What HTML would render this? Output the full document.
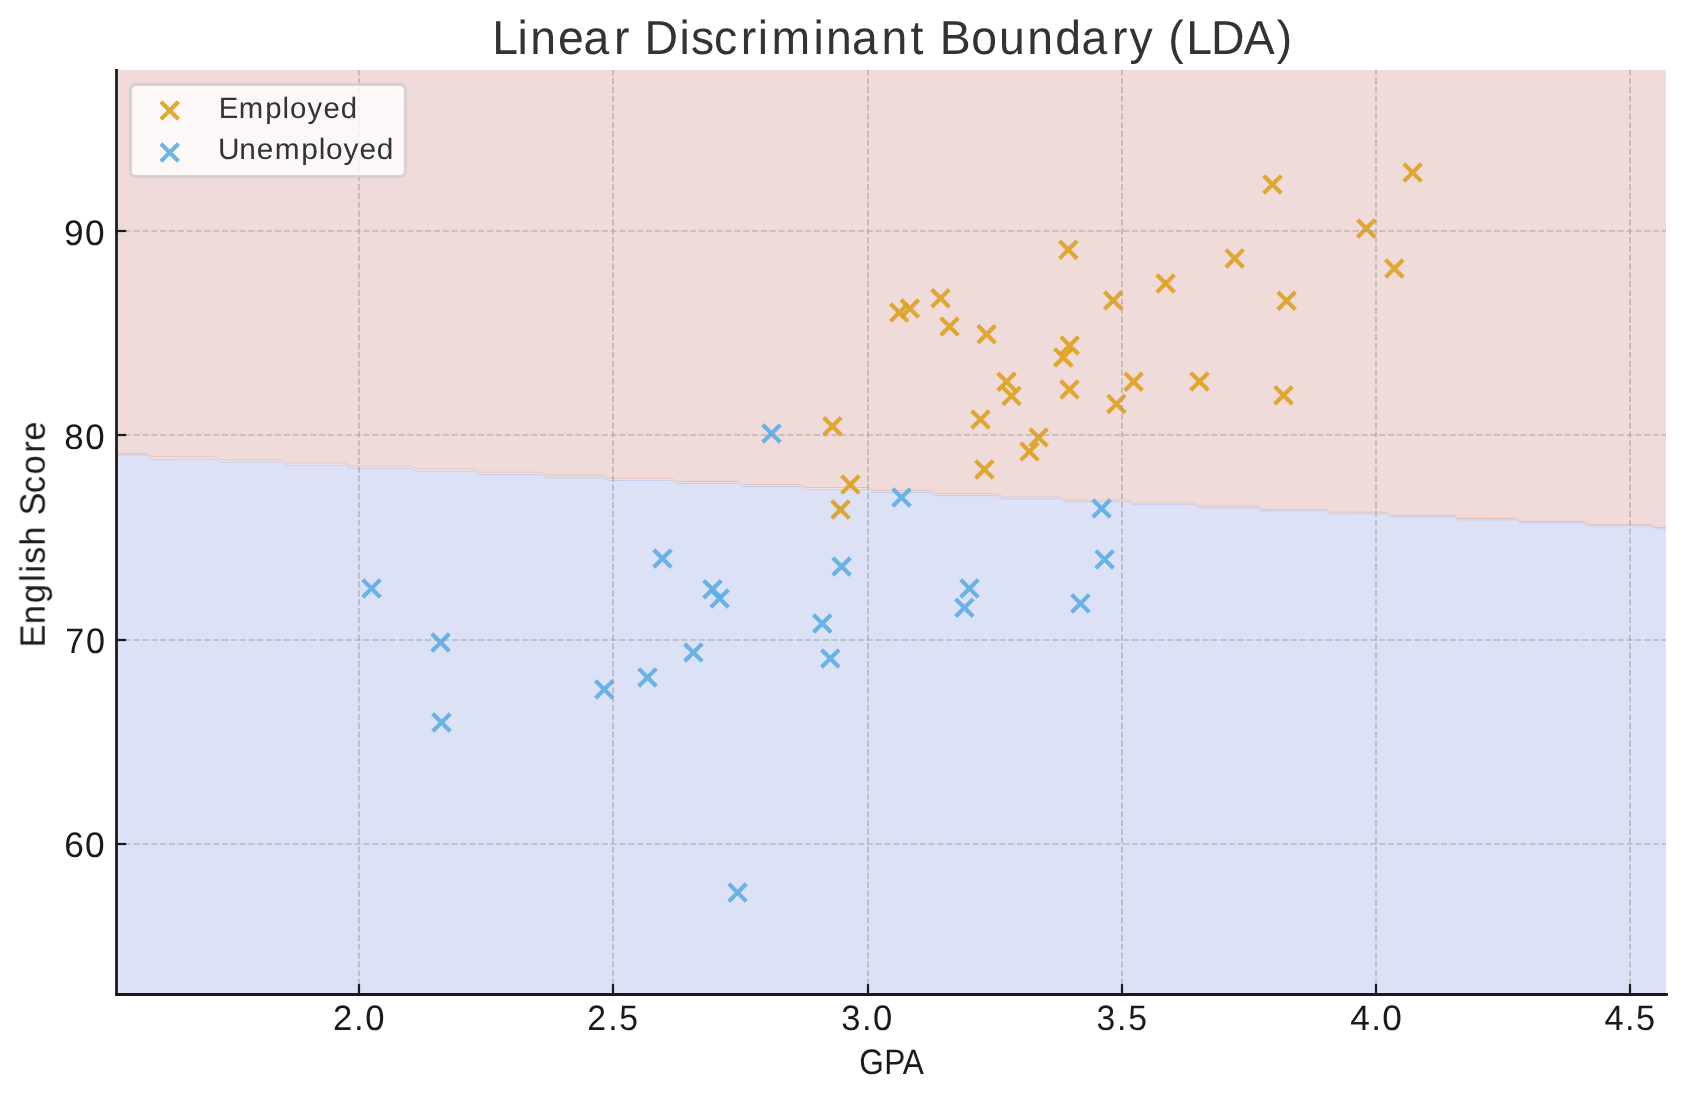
<!DOCTYPE html>
<html lang="en"><head><meta charset="utf-8"><title>Linear Discriminant Boundary (LDA)</title>
<style>
html,body{margin:0;padding:0;background:#fff;}
body{width:1686px;height:1101px;overflow:hidden;}
svg{display:block;}
text{font-family:"Liberation Sans",sans-serif;font-weight:400;text-rendering:geometricPrecision;}
</style></head><body>
<svg width="1686" height="1101" viewBox="0 0 1686 1101">
<rect x="0" y="0" width="1686" height="1101" fill="#ffffff"/>
<polygon fill="#efdbd9" points="116.5,70.0 1666.0,70.0 1666.0,527.3 1655.7,527.3 1651.3,524.3 1588.5,524.3 1584.1,521.2 1520.7,521.2 1516.3,518.1 1458.1,518.1 1453.7,515.0 1391.2,515.0 1386.8,511.9 1329.1,511.9 1324.7,508.8 1261.6,508.8 1257.2,505.7 1199.0,505.7 1194.6,502.7 1132.5,502.7 1128.1,499.6 1064.7,499.6 1060.3,496.5 1002.4,496.5 998.0,493.4 935.6,493.4 931.2,490.3 873.0,490.3 868.6,487.2 805.2,487.2 800.8,484.1 742.5,484.1 738.1,481.1 675.9,481.1 671.5,478.0 608.7,478.0 604.3,474.9 546.1,474.9 541.7,471.8 478.6,471.8 474.2,468.7 416.6,468.7 412.2,465.6 349.1,465.6 344.7,462.6 286.1,462.6 281.7,459.5 219.5,459.5 215.1,456.4 151.9,456.4 147.5,453.3 116.5,453.3"/>
<polygon fill="#dce1f5" points="116.5,994.5 1666.0,994.5 1666.0,529.1 1655.7,529.1 1651.3,526.1 1588.5,526.1 1584.1,523.0 1520.7,523.1 1516.3,520.0 1458.1,520.1 1453.7,517.0 1391.2,517.0 1386.8,513.9 1329.1,514.0 1324.7,510.9 1261.6,511.0 1257.2,507.9 1199.0,507.9 1194.6,504.9 1132.5,504.9 1128.1,501.8 1064.7,501.9 1060.3,498.8 1002.4,498.8 998.0,495.8 935.6,495.8 931.2,492.7 873.0,492.8 868.6,489.7 805.2,489.8 800.8,486.7 742.5,486.7 738.1,483.6 675.9,483.7 671.5,480.6 608.7,480.7 604.3,477.6 546.1,477.6 541.7,474.6 478.6,474.6 474.2,471.5 416.6,471.6 412.2,468.5 349.1,468.5 344.7,465.5 286.1,465.5 281.7,462.4 219.5,462.5 215.1,459.4 151.9,459.5 147.5,455.4 116.5,455.4"/>
<polygon fill="#eee4e8" points="116.5,453.3 147.5,453.3 151.9,456.4 215.1,456.4 219.5,459.5 281.7,459.5 286.1,462.6 344.7,462.6 349.1,465.6 412.2,465.6 416.6,468.7 474.2,468.7 478.6,471.8 541.7,471.8 546.1,474.9 604.3,474.9 608.7,478.0 671.5,478.0 675.9,481.1 738.1,481.1 742.5,484.1 800.8,484.1 805.2,487.2 868.6,487.2 873.0,490.3 931.2,490.3 935.6,493.4 998.0,493.4 1002.4,496.5 1060.3,496.5 1064.7,499.6 1128.1,499.6 1132.5,502.7 1194.6,502.7 1199.0,505.7 1257.2,505.7 1261.6,508.8 1324.7,508.8 1329.1,511.9 1386.8,511.9 1391.2,515.0 1453.7,515.0 1458.1,518.1 1516.3,518.1 1520.7,521.2 1584.1,521.2 1588.5,524.3 1651.3,524.3 1655.7,527.3 1666.0,527.3 1666.0,529.1 1655.7,529.1 1651.3,526.1 1588.5,526.1 1584.1,523.0 1520.7,523.1 1516.3,520.0 1458.1,520.1 1453.7,517.0 1391.2,517.0 1386.8,513.9 1329.1,514.0 1324.7,510.9 1261.6,511.0 1257.2,507.9 1199.0,507.9 1194.6,504.9 1132.5,504.9 1128.1,501.8 1064.7,501.9 1060.3,498.8 1002.4,498.8 998.0,495.8 935.6,495.8 931.2,492.7 873.0,492.8 868.6,489.7 805.2,489.8 800.8,486.7 742.5,486.7 738.1,483.6 675.9,483.7 671.5,480.6 608.7,480.7 604.3,477.6 546.1,477.6 541.7,474.6 478.6,474.6 474.2,471.5 416.6,471.6 412.2,468.5 349.1,468.5 344.7,465.5 286.1,465.5 281.7,462.4 219.5,462.5 215.1,459.4 151.9,459.5 147.5,455.4 116.5,455.4"/>
<polyline fill="none" stroke="#e8bfb3" stroke-width="1" points="116.5,453.6 147.5,453.6 151.9,456.7 215.1,456.7 219.5,459.8 281.7,459.8 286.1,462.9 344.7,462.9 349.1,465.9 412.2,465.9 416.6,469.0 474.2,469.0 478.6,472.1 541.7,472.1 546.1,475.2 604.3,475.2 608.7,478.3 671.5,478.3 675.9,481.4 738.1,481.4 742.5,484.4 800.8,484.4 805.2,487.5 868.6,487.5 873.0,490.6 931.2,490.6 935.6,493.7 998.0,493.7 1002.4,496.8 1060.3,496.8 1064.7,499.9 1128.1,499.9 1132.5,503.0 1194.6,503.0 1199.0,506.0 1257.2,506.0 1261.6,509.1 1324.7,509.1 1329.1,512.2 1386.8,512.2 1391.2,515.3 1453.7,515.3 1458.1,518.4 1516.3,518.4 1520.7,521.5 1584.1,521.5 1588.5,524.6 1651.3,524.6 1655.7,527.6 1666.0,527.6"/>
<polyline fill="none" stroke="#c3ccf0" stroke-width="1" points="116.5,455.2 147.5,455.2 151.9,459.3 215.1,459.2 219.5,462.3 281.7,462.2 286.1,465.3 344.7,465.3 349.1,468.3 412.2,468.3 416.6,471.4 474.2,471.3 478.6,474.4 541.7,474.4 546.1,477.4 604.3,477.4 608.7,480.5 671.5,480.4 675.9,483.5 738.1,483.4 742.5,486.5 800.8,486.5 805.2,489.6 868.6,489.5 873.0,492.6 931.2,492.5 935.6,495.6 998.0,495.6 1002.4,498.6 1060.3,498.6 1064.7,501.7 1128.1,501.6 1132.5,504.7 1194.6,504.7 1199.0,507.7 1257.2,507.7 1261.6,510.8 1324.7,510.7 1329.1,513.8 1386.8,513.7 1391.2,516.8 1453.7,516.8 1458.1,519.9 1516.3,519.8 1520.7,522.9 1584.1,522.8 1588.5,525.9 1651.3,525.9 1655.7,528.9 1666.0,528.9"/>
<g fill="none" stroke-width="4.17" stroke-linecap="butt" stroke-opacity="0.9">
<g stroke="#dda01e">
<path transform="translate(1412.6,172.6)" d="M-8.78,-8.78L8.78,8.78M-8.78,8.78L8.78,-8.78"/>
<path transform="translate(1272.5,184.5)" d="M-8.78,-8.78L8.78,8.78M-8.78,8.78L8.78,-8.78"/>
<path transform="translate(1366.3,228.5)" d="M-8.78,-8.78L8.78,8.78M-8.78,8.78L8.78,-8.78"/>
<path transform="translate(1234.6,258.4)" d="M-8.78,-8.78L8.78,8.78M-8.78,8.78L8.78,-8.78"/>
<path transform="translate(1394.3,268.5)" d="M-8.78,-8.78L8.78,8.78M-8.78,8.78L8.78,-8.78"/>
<path transform="translate(1165.7,283.5)" d="M-8.78,-8.78L8.78,8.78M-8.78,8.78L8.78,-8.78"/>
<path transform="translate(1286.6,300.8)" d="M-8.78,-8.78L8.78,8.78M-8.78,8.78L8.78,-8.78"/>
<path transform="translate(1068.3,249.7)" d="M-8.78,-8.78L8.78,8.78M-8.78,8.78L8.78,-8.78"/>
<path transform="translate(940.5,298.3)" d="M-8.78,-8.78L8.78,8.78M-8.78,8.78L8.78,-8.78"/>
<path transform="translate(909.8,308.5)" d="M-8.78,-8.78L8.78,8.78M-8.78,8.78L8.78,-8.78"/>
<path transform="translate(899.2,312.6)" d="M-8.78,-8.78L8.78,8.78M-8.78,8.78L8.78,-8.78"/>
<path transform="translate(949.5,326.5)" d="M-8.78,-8.78L8.78,8.78M-8.78,8.78L8.78,-8.78"/>
<path transform="translate(986.6,334.3)" d="M-8.78,-8.78L8.78,8.78M-8.78,8.78L8.78,-8.78"/>
<path transform="translate(1113.2,300.5)" d="M-8.78,-8.78L8.78,8.78M-8.78,8.78L8.78,-8.78"/>
<path transform="translate(1069.7,345.5)" d="M-8.78,-8.78L8.78,8.78M-8.78,8.78L8.78,-8.78"/>
<path transform="translate(1063.3,357.4)" d="M-8.78,-8.78L8.78,8.78M-8.78,8.78L8.78,-8.78"/>
<path transform="translate(1006.5,381.7)" d="M-8.78,-8.78L8.78,8.78M-8.78,8.78L8.78,-8.78"/>
<path transform="translate(1011.5,395.9)" d="M-8.78,-8.78L8.78,8.78M-8.78,8.78L8.78,-8.78"/>
<path transform="translate(1069.5,389.5)" d="M-8.78,-8.78L8.78,8.78M-8.78,8.78L8.78,-8.78"/>
<path transform="translate(1133.6,381.7)" d="M-8.78,-8.78L8.78,8.78M-8.78,8.78L8.78,-8.78"/>
<path transform="translate(1116.4,403.9)" d="M-8.78,-8.78L8.78,8.78M-8.78,8.78L8.78,-8.78"/>
<path transform="translate(980.5,419.5)" d="M-8.78,-8.78L8.78,8.78M-8.78,8.78L8.78,-8.78"/>
<path transform="translate(1038.6,437.5)" d="M-8.78,-8.78L8.78,8.78M-8.78,8.78L8.78,-8.78"/>
<path transform="translate(1029.5,451.6)" d="M-8.78,-8.78L8.78,8.78M-8.78,8.78L8.78,-8.78"/>
<path transform="translate(984.4,469.4)" d="M-8.78,-8.78L8.78,8.78M-8.78,8.78L8.78,-8.78"/>
<path transform="translate(832.4,426.3)" d="M-8.78,-8.78L8.78,8.78M-8.78,8.78L8.78,-8.78"/>
<path transform="translate(850.4,484.6)" d="M-8.78,-8.78L8.78,8.78M-8.78,8.78L8.78,-8.78"/>
<path transform="translate(840.5,509.6)" d="M-8.78,-8.78L8.78,8.78M-8.78,8.78L8.78,-8.78"/>
<path transform="translate(1199.5,381.5)" d="M-8.78,-8.78L8.78,8.78M-8.78,8.78L8.78,-8.78"/>
<path transform="translate(1283.5,395.3)" d="M-8.78,-8.78L8.78,8.78M-8.78,8.78L8.78,-8.78"/>
</g>
<g stroke="#5bade4">
<path transform="translate(901.5,497.5)" d="M-8.78,-8.78L8.78,8.78M-8.78,8.78L8.78,-8.78"/>
<path transform="translate(1101.6,508.5)" d="M-8.78,-8.78L8.78,8.78M-8.78,8.78L8.78,-8.78"/>
<path transform="translate(1104.6,559.4)" d="M-8.78,-8.78L8.78,8.78M-8.78,8.78L8.78,-8.78"/>
<path transform="translate(371.5,588.4)" d="M-8.78,-8.78L8.78,8.78M-8.78,8.78L8.78,-8.78"/>
<path transform="translate(440.6,642.5)" d="M-8.78,-8.78L8.78,8.78M-8.78,8.78L8.78,-8.78"/>
<path transform="translate(441.5,722.5)" d="M-8.78,-8.78L8.78,8.78M-8.78,8.78L8.78,-8.78"/>
<path transform="translate(604.3,689.4)" d="M-8.78,-8.78L8.78,8.78M-8.78,8.78L8.78,-8.78"/>
<path transform="translate(662.5,558.5)" d="M-8.78,-8.78L8.78,8.78M-8.78,8.78L8.78,-8.78"/>
<path transform="translate(712.5,589.3)" d="M-8.78,-8.78L8.78,8.78M-8.78,8.78L8.78,-8.78"/>
<path transform="translate(719.6,598.5)" d="M-8.78,-8.78L8.78,8.78M-8.78,8.78L8.78,-8.78"/>
<path transform="translate(841.6,566.5)" d="M-8.78,-8.78L8.78,8.78M-8.78,8.78L8.78,-8.78"/>
<path transform="translate(822.3,623.5)" d="M-8.78,-8.78L8.78,8.78M-8.78,8.78L8.78,-8.78"/>
<path transform="translate(830.3,658.5)" d="M-8.78,-8.78L8.78,8.78M-8.78,8.78L8.78,-8.78"/>
<path transform="translate(693.4,652.5)" d="M-8.78,-8.78L8.78,8.78M-8.78,8.78L8.78,-8.78"/>
<path transform="translate(647.5,677.4)" d="M-8.78,-8.78L8.78,8.78M-8.78,8.78L8.78,-8.78"/>
<path transform="translate(969.5,588.4)" d="M-8.78,-8.78L8.78,8.78M-8.78,8.78L8.78,-8.78"/>
<path transform="translate(964.4,607.7)" d="M-8.78,-8.78L8.78,8.78M-8.78,8.78L8.78,-8.78"/>
<path transform="translate(1080.5,603.4)" d="M-8.78,-8.78L8.78,8.78M-8.78,8.78L8.78,-8.78"/>
<path transform="translate(771.5,433.5)" d="M-8.78,-8.78L8.78,8.78M-8.78,8.78L8.78,-8.78"/>
<path transform="translate(737.6,892.6)" d="M-8.78,-8.78L8.78,8.78M-8.78,8.78L8.78,-8.78"/>
</g></g>
<g stroke="#999999" stroke-opacity="0.55" stroke-width="1.67" stroke-dasharray="6.1667 2.6667" fill="none">
<line x1="115.92" y1="231" x2="1666.0" y2="231"/>
<line x1="115.92" y1="435" x2="1666.0" y2="435"/>
<line x1="115.92" y1="640" x2="1666.0" y2="640"/>
<line x1="115.92" y1="844" x2="1666.0" y2="844"/>
<line x1="359" y1="994.0" x2="359" y2="70.0"/>
<line x1="613" y1="994.0" x2="613" y2="70.0"/>
<line x1="868" y1="994.0" x2="868" y2="70.0"/>
<line x1="1122" y1="994.0" x2="1122" y2="70.0"/>
<line x1="1376" y1="994.0" x2="1376" y2="70.0"/>
<line x1="1630" y1="994.0" x2="1630" y2="70.0"/>
</g>
<g stroke="#1a1a1a" stroke-width="2.22" fill="none">
<line x1="116.5" y1="231" x2="126.22" y2="231"/>
<line x1="116.5" y1="435" x2="126.22" y2="435"/>
<line x1="116.5" y1="640" x2="126.22" y2="640"/>
<line x1="116.5" y1="844" x2="126.22" y2="844"/>
<line x1="359" y1="994.5" x2="359" y2="984.10"/>
<line x1="613" y1="994.5" x2="613" y2="984.10"/>
<line x1="868" y1="994.5" x2="868" y2="984.10"/>
<line x1="1122" y1="994.5" x2="1122" y2="984.10"/>
<line x1="1376" y1="994.5" x2="1376" y2="984.10"/>
<line x1="1630" y1="994.5" x2="1630" y2="984.10"/>
</g>
<g stroke="#1a1a1a" stroke-width="2.78" stroke-linecap="square" fill="none">
<line x1="116.5" y1="70.4" x2="116.5" y2="994.5"/>
<line x1="116.5" y1="994.5" x2="1666.5" y2="994.5"/>
</g>
<rect x="130.5" y="84.5" width="274.8" height="92.0" rx="5.2" ry="5.2" fill="#ffffff" fill-opacity="0.8" stroke="#cccccc" stroke-opacity="0.8" stroke-width="2.78"/>
<g fill="none" stroke-width="4.17" stroke-opacity="0.9">
<path stroke="#dda01e" transform="translate(169.7,110.5)" d="M-8.78,-8.78L8.78,8.78M-8.78,8.78L8.78,-8.78"/>
<path stroke="#5bade4" transform="translate(169.7,152.5)" d="M-8.78,-8.78L8.78,8.78M-8.78,8.78L8.78,-8.78"/>
</g>
<g id="txt" style="opacity:0.999">
<text id="t" transform="translate(0,53.80) scale(0.9709,1)" x="506.91 533.08 546.07 574.69 601.01 632.42 648.32 663.95 699.84 711.81 735.48 762.92 780.49 794.69 837.86 850.85 877.60 907.98 937.92 951.18 967.94 1000.41 1028.85 1058.09 1086.78 1113.93 1145.33 1163.42 1187.29 1203.28 1221.83 1247.39 1281.13 1314.94" y="0" font-size="47.75" fill="#333333">Linear Discriminant Boundary (LDA)</text>
<text id="y90" transform="translate(0,244.80) scale(0.9977,1)" x="64.23 85.31" y="0" font-size="35.32" fill="#1a1a1a">90</text>
<text id="y80" transform="translate(0,448.80) scale(0.9861,1)" x="65.24 86.44" y="0" font-size="35.32" fill="#1a1a1a">80</text>
<text id="y70" transform="translate(0,652.80) scale(0.9668,1)" x="67.40 89.01" y="0" font-size="35.32" fill="#1a1a1a">70</text>
<text id="y60" transform="translate(0,856.80) scale(0.9994,1)" x="64.19 85.15" y="0" font-size="35.32" fill="#1a1a1a">60</text>
<text id="gpa" transform="translate(0,1073.70) scale(0.8947,1)" x="960.30 988.29 1008.93" y="0" font-size="35.32" fill="#1a1a1a">GPA</text>
<text id="l1" transform="translate(0,118.00) scale(0.9972,1)" x="219.27 239.36 265.93 283.37 290.85 308.42 324.46 341.63" y="0" font-size="29.44" fill="#333333">Employed</text>
<text id="l2" transform="translate(0,159.40) scale(1.0134,1)" x="215.00 236.20 253.30 271.00 297.20 314.45 321.72 339.02 354.78 371.68" y="0" font-size="29.44" fill="#333333">Unemployed</text>
<text id="x0" transform="translate(0,1029.70) scale(0.9814,1)" x="339.22 360.77 372.07" y="0" font-size="35.32" fill="#1a1a1a">2.0</text>
<text id="x1" transform="translate(0,1029.70) scale(0.9554,1)" x="614.59 636.60 648.20" y="0" font-size="35.32" fill="#1a1a1a">2.5</text>
<text id="x2" transform="translate(0,1029.70) scale(0.9794,1)" x="859.01 880.10 891.43" y="0" font-size="35.32" fill="#1a1a1a">3.0</text>
<text id="x3" transform="translate(0,1029.70) scale(0.9539,1)" x="1149.53 1171.06 1182.69" y="0" font-size="35.32" fill="#1a1a1a">3.5</text>
<text id="x4" transform="translate(0,1029.70) scale(0.9972,1)" x="1354.14 1374.99 1386.03" y="0" font-size="35.32" fill="#1a1a1a">4.0</text>
<text id="x5" transform="translate(0,1029.70) scale(0.9725,1)" x="1649.81 1671.07 1682.38" y="0" font-size="35.32" fill="#1a1a1a">4.5</text>
<text id="yl" transform="translate(44.70,643.3) rotate(-90) scale(0.9702,1)" x="-4.35 19.67 41.31 63.21 72.83 81.96 100.72 120.36 131.85 154.70 174.20 196.51 208.94" y="0" font-size="35.32" fill="#1a1a1a">English Score</text>
</g>
</svg>
</body></html>
